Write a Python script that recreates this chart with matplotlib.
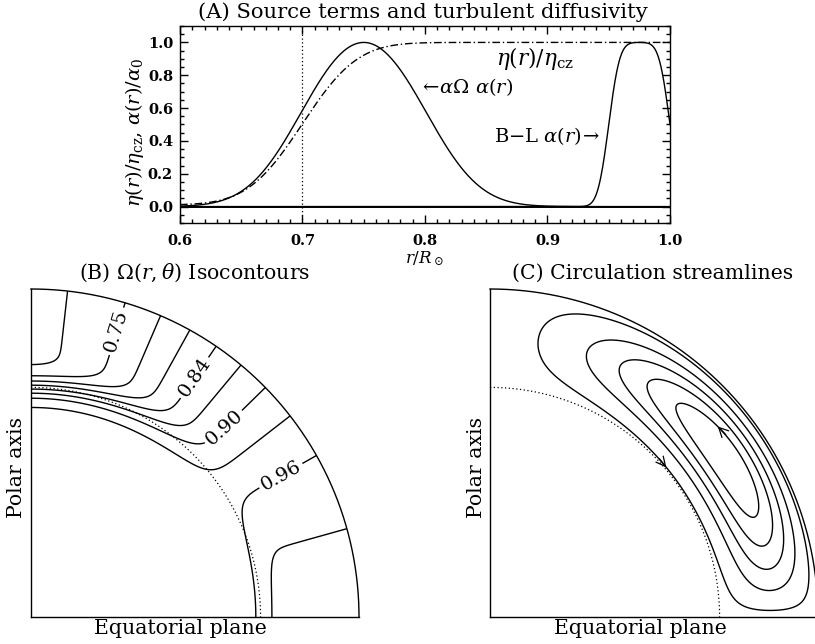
import math
import numpy as np
import matplotlib.pyplot as plt

plt.rcParams['font.family'] = 'DejaVu Serif'
plt.rcParams['mathtext.fontset'] = 'dejavuserif'

# --- radial profiles (r in units of the solar radius) ---
r_core = 0.7            # core-envelope interface
w_core = 0.05           # thickness of the interface
eta_ratio = 0.01        # eta_c / eta_cz
alpha_om_edges = [0.7, 0.8]
alpha_om_width = 0.05
alpha_bl_edges = [0.95, 1.0]
alpha_bl_width = 0.01

# --- rotation: Omega(r, theta) / Omega_eq ---
omega_core = 0.9394
omega_a2 = 0.1264
omega_a4 = 0.1591
omega_levels = [0.72, 0.75, 0.78, 0.81, 0.84, 0.87, 0.90, 0.93, 0.96, 0.99]
omega_labels = [0.75, 0.84, 0.90, 0.96]

# --- meridional circulation stream function ---
flow_rp = 0.65
flow_beta1 = 1.5
flow_beta2 = 1.8
flow_eps = 2.0000001
flow_r0 = 0.075
flow_gamma = 0.5
psi_levels = [0.08, 0.3, 0.5, 0.68, 0.85]

erf = np.vectorize(math.erf)
TXT = 14.7


def step(r, r0, w):
    return 0.5 * (1.0 + erf((r - r0) / w))


def band(r, edges, w):
    a = (1.0 + erf((r - edges[0]) / w)) * (1.0 - erf((r - edges[1]) / w))
    return a / a.max()


def quarter_frame(ax):
    ax.set_xlim(0, 1)
    ax.set_ylim(0, 1)
    ax.set_aspect('equal')
    ax.set_xticks([])
    ax.set_yticks([])
    for side in ('top', 'right'):
        ax.spines[side].set_visible(False)
    for side in ('left', 'bottom'):
        ax.spines[side].set_linewidth(1.0)
    t = np.linspace(0, np.pi / 2, 300)
    ax.plot(np.sin(t), np.cos(t), color='k', lw=1.0, clip_on=False)
    ax.plot(r_core * np.sin(t), r_core * np.cos(t), color='k', lw=0.9,
            linestyle=(0, (1, 2)))


def flow_arrow(ax, cs, idx, target, upward):
    seg = max(cs.allsegs[idx], key=len)
    n = len(seg)
    i = int(np.argmin(np.hypot(seg[:, 0] - target[0], seg[:, 1] - target[1])))
    d = seg[(i + 3) % n] - seg[(i - 3) % n]
    d = d / np.hypot(*d)
    if (d[1] > 0) != upward:
        d = -d
    tip = seg[i]
    ax.annotate('', xy=tip, xytext=tip - 0.035 * d,
                arrowprops=dict(arrowstyle='->', lw=0.9, color='k',
                                mutation_scale=17, shrinkA=0, shrinkB=0))


fig = plt.figure(figsize=(8.15, 6.44), dpi=100)
W, H = 815.0, 644.0

# ---------------- (A) source terms and diffusivity ----------------
axA = fig.add_axes([180 / W, 1 - 223 / H, 490 / W, 197 / H])
r = np.linspace(0.6, 1.0, 801)
eta = eta_ratio + (1 - eta_ratio) * step(r, r_core, w_core)
alpha_om = band(r, alpha_om_edges, alpha_om_width)
alpha_bl = band(r, alpha_bl_edges, alpha_bl_width)

axA.axhline(0.0, color='k', lw=1.4)
axA.axvline(r_core, color='k', lw=0.9, linestyle=(0, (1, 2)))
axA.plot(r, alpha_om, color='k', lw=1.0)
axA.plot(r, eta, color='k', lw=1.0, dashes=(5.5, 2, 1, 2))
axA.plot(r, alpha_bl, color='k', lw=1.0)

axA.set_xlim(0.6, 1.0)
axA.set_ylim(-0.1, 1.1)
axA.set_xticks([0.6, 0.7, 0.8, 0.9, 1.0])
axA.set_yticks([0.0, 0.2, 0.4, 0.6, 0.8, 1.0])
axA.set_xticks(np.arange(0.6, 1.0001, 0.01), minor=True)
axA.set_yticks(np.arange(-0.1, 1.1001, 0.05), minor=True)
axA.xaxis.set_major_formatter('{x:.1f}')
axA.yaxis.set_major_formatter('{x:.1f}')
axA.tick_params(which='both', direction='in', top=True, right=True,
                width=1.0, labelsize=10.5)
axA.tick_params(which='major', length=6)
axA.tick_params(which='minor', length=3)
axA.tick_params(axis='x', pad=8)
axA.tick_params(axis='y', pad=5)
for lab in axA.get_xticklabels() + axA.get_yticklabels():
    lab.set_fontweight('bold')
for s in axA.spines.values():
    s.set_linewidth(1.0)

axA.text(0.858, 0.90, r'$\eta(r)/\eta_{\rm cz}$', fontsize=15.5, va='center')
axA.text(0.795, 0.725, r'$\leftarrow\!\alpha\Omega\ \alpha(r)$', fontsize=14,
         va='center')
axA.text(0.856, 0.43, r'B$-$L $\alpha(r)\!\rightarrow$', fontsize=14,
         va='center')

fig.text(423 / W, 1 - 12 / H, '(A) Source terms and turbulent diffusivity',
         ha='center', va='center', fontsize=15.2)
fig.text(424 / W, 1 - 259 / H, r'$r/R_\odot$', ha='center', va='center',
         fontsize=12)
fig.text(135 / W, 1 - 132 / H, r'$\eta(r)/\eta_{\rm cz}$, $\alpha(r)/\alpha_0$',
         ha='center', va='center', rotation=90, fontsize=14)

# ---------------- grid for the meridional quadrant ----------------
g = np.linspace(0.0, 1.0, 600)
X, Y = np.meshgrid(g, g)
R = np.hypot(X, Y)
R[0, 0] = 1e-6
TH = np.arctan2(X, Y)          # colatitude, measured from the polar axis
C2 = np.cos(TH) ** 2

# ---------------- (B) rotation isocontours ----------------
axB = fig.add_axes([31 / W, 1 - 617 / H, 328 / W, 328 / H])
quarter_frame(axB)
omega_surf = 1.0 - omega_a2 * C2 - omega_a4 * C2 ** 2
omega = omega_core + step(R, r_core, w_core) * (omega_surf - omega_core)
omega[R > 1.0005] = np.nan
plain_levels = [v for v in omega_levels if v not in omega_labels]
axB.contour(X, Y, omega, levels=plain_levels, colors='k',
            linewidths=1.0, linestyles='solid')
csB = axB.contour(X, Y, omega, levels=omega_labels, colors='k',
                  linewidths=1.0, linestyles='solid')
label_pos = [(0.251, 0.874), (0.495, 0.732), (0.597, 0.569), (0.764, 0.427)]
axB.clabel(csB, manual=label_pos, fmt='%.2f', fontsize=14, inline=True,
           inline_spacing=3)

fig.text(195 / W, 1 - 273 / H, r'(B) $\Omega(r,\theta)$ Isocontours',
         ha='center', va='center', fontsize=TXT)
fig.text(180 / W, 1 - 628 / H, 'Equatorial plane', ha='center', va='center',
         fontsize=TXT)
fig.text(17 / W, 1 - 468 / H, 'Polar axis', ha='center', va='center',
         rotation=90, fontsize=TXT)

# ---------------- (C) circulation streamlines ----------------
axC = fig.add_axes([490 / W, 1 - 617 / H, 328 / W, 328 / H])
quarter_frame(axC)
x = (R - flow_rp) / (1.0 - flow_rp)
psi = ((R - flow_rp) ** 2 * np.sin(np.pi * x)
       * (1 - np.exp(-flow_beta1 * TH ** flow_eps))
       * (1 - np.exp(flow_beta2 * (TH - np.pi / 2)))
       * np.exp(-((R - flow_r0) / flow_gamma) ** 2))
psi[R < flow_rp] = 0.0
psi[R > 1.0] = np.nan
psi = psi / np.nanmax(psi)
csC = axC.contour(X, Y, psi, levels=psi_levels, colors='k', linewidths=1.0,
                  linestyles='solid')
flow_arrow(axC, csC, 0, (0.534, 0.452), upward=False)
flow_arrow(axC, csC, len(psi_levels) - 1, (0.701, 0.589), upward=True)

fig.text(653 / W, 1 - 273 / H, '(C) Circulation streamlines',
         ha='center', va='center', fontsize=TXT)
fig.text(640 / W, 1 - 628 / H, 'Equatorial plane', ha='center', va='center',
         fontsize=TXT)
fig.text(477 / W, 1 - 468 / H, 'Polar axis', ha='center', va='center',
         rotation=90, fontsize=TXT)

fig.savefig('out.png', dpi=100)
